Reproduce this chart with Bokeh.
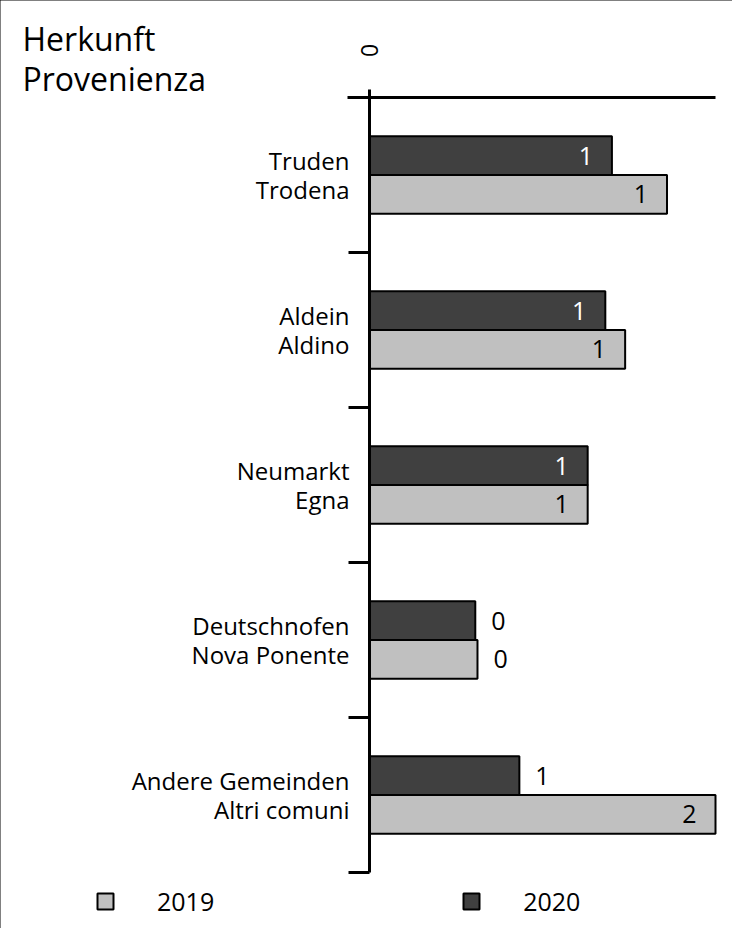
import math
from bokeh.plotting import figure
from bokeh.models import ColumnDataSource, Range1d, Legend, LegendItem, Label
from bokeh.core.properties import value
from bokeh.embed import file_html
from bokeh.resources import INLINE

# ---- data (top-down order as in the chart) ----
categories = ["Truden\nTrodena", "Aldein\nAldino", "Neumarkt\nEgna",
              "Deutschnofen\nNova Ponente", "Andere Gemeinden\nAltri comuni"]
values_2019 = [1.35, 1.16, 0.99, 0.49, 1.57]
values_2020 = [1.10, 1.07, 0.99, 0.48, 0.68]
series_labels = ["2019", "2020"]
axis_tick_label = "0"
title_text = "Herkunft\nProvenienza"

# ---- layout constants (pixels) ----
W, H = 732, 928
AXIS_X = 369          # canvas x of value 0
BASE_Y = 56           # distance of category-area bottom from canvas bottom
BAND = 155            # px per category
FONT = value("Open Sans")
DARK = "#404040"
LIGHT = "#c0c0c0"

n = len(categories)
x_max = max(values_2019 + values_2020)
px_x = (W - 17 - AXIS_X) / x_max      # px per value unit
x_start = -AXIS_X / px_x
x_end = (W - AXIS_X) / px_x
y_start = -BASE_Y / BAND
y_end = (H - BASE_Y) / BAND

p = figure(width=W, height=H, output_backend="svg", toolbar_location=None,
           x_range=Range1d(x_start, x_end), y_range=Range1d(y_start, y_end),
           x_axis_location=None, y_axis_location=None,
           min_border=0)
p.outline_line_color = None
p.grid.visible = False
p.styles = {"outline": "2px solid black", "outline-offset": "-2px"}

centers = [n - 0.5 - i for i in range(n)]
src = ColumnDataSource(dict(cat=categories, c=centers,
                            y20=[c + 0.125 for c in centers], y19=[c - 0.125 for c in centers],
                            v2019=values_2019, v2020=values_2020,
                            low=[c - 0.5 for c in centers]))

r2020 = p.hbar(y="y20", left=0, right="v2020", height=0.25, source=src,
               fill_color=DARK, line_color="black", line_width=2)
r2019 = p.hbar(y="y19", left=0, right="v2019", height=0.25, source=src,
               fill_color=LIGHT, line_color="black", line_width=2)

# axes drawn with the plot's scales
p.segment(x0=[0], x1=[0], y0=[0], y1=[n + 8 / BAND], line_color="black", line_width=3)
p.segment(x0=[-22 / px_x], x1=[x_max], y0=[n], y1=[n], line_color="black", line_width=3)
p.segment(x0=-21 / px_x, x1=0, y0="low", y1="low", source=src, line_color="black", line_width=3)
p.text(x=[0], y=[n + 47 / BAND], text=[axis_tick_label], angle=math.pi / 2,
       text_align="center", text_baseline="middle", text_font=FONT,
       text_font_size="23px", text_color="black")

# category labels
p.text(x=0, y="c", text="cat", source=src, x_offset=-20, text_align="right",
       text_baseline="middle", text_font=FONT, text_font_size="24px",
       text_line_height=0.87, text_color="black")

# value labels
threshold = 0.9
for vals, col, col_in in ((values_2020, "y20", "white"), (values_2019, "y19", "black")):
    ys = src.data[col]
    inside = dict(y=[], x=[], t=[])
    outside = dict(y=[], x=[], t=[])
    for yy, v in zip(ys, vals):
        d = inside if v >= threshold else outside
        d["y"].append(yy)
        d["x"].append(v)
        d["t"].append(f"{round(v):.0f}")
    p.text(x="x", y="y", text="t", source=ColumnDataSource(inside),
           text_align="right", text_baseline="middle", x_offset=-19,
           text_font=FONT, text_font_size="25px", text_color=col_in)
    p.text(x="x", y="y", text="t", source=ColumnDataSource(outside),
           text_align="left", text_baseline="middle", x_offset=16,
           text_font=FONT, text_font_size="25px", text_color="black")

# title
p.add_layout(Label(x=22, y=H - 16, x_units="screen", y_units="screen", text=title_text,
                   text_font="Open Sans", text_font_size="32px", text_baseline="top",
                   text_align="left", text_line_height=0.94, text_color="black"))

# legend
legend = Legend(items=[LegendItem(label=series_labels[0], renderers=[r2019]),
                       LegendItem(label=series_labels[1], renderers=[r2020])],
                orientation="horizontal", location=(95, 10),
                glyph_width=20, glyph_height=20, label_standoff=42, spacing=247,
                padding=0, margin=0, border_line_color=None, background_fill_alpha=0,
                label_text_font="Open Sans", label_text_font_size="25px",
                label_text_color="black")
p.add_layout(legend)

open("out.html", "w").write(file_html(p, INLINE))
